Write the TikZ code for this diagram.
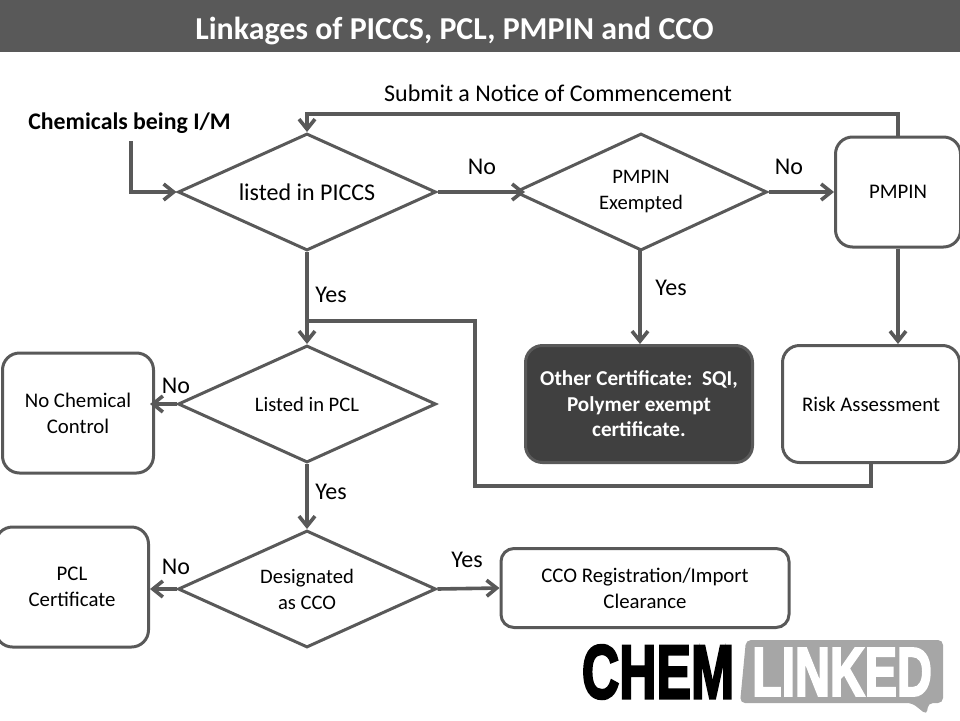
\documentclass[tikz,border=0pt]{standalone}
\usepackage{fontspec}
\setmainfont{Carlito}
\newfontfamily\logofont[FakeBold=3.5]{Liberation Sans Bold}
\usetikzlibrary{shapes.geometric,arrows.meta}
\definecolor{ln}{HTML}{595959}
\definecolor{bar}{HTML}{595959}
\definecolor{dk}{HTML}{404040}
\definecolor{lg}{HTML}{A6A6A6}
\tikzset{x=1pt,y=-1pt,
 dec/.style={draw=ln,line width=3pt,diamond,aspect=2.2,inner sep=0pt,align=center,font=\fontsize{20.6}{26}\selectfont},
 rb/.style={draw=ln,line width=3pt,rounded corners=17pt,align=center,font=\fontsize{20.8}{26}\selectfont,inner sep=0pt},
 con/.style={draw=ln,line width=3.6pt,-{Straight Barb[length=10pt,width=16pt,line width=3.6pt]}},
 pl/.style={draw=ln,line width=3.6pt},
 lab/.style={font=\fontsize{24}{26}\selectfont,text=black,inner sep=0pt}}
\begin{document}
\begin{tikzpicture}
\useasboundingbox (0,0) rectangle (960,720);
\fill[bar] (0,0) rectangle (960,52);
\node[font=\fontsize{31.9}{34}\selectfont\bfseries,text=white,inner sep=0] (title) at (454.5,31) {Linkages of PICCS, PCL, PMPIN and CCO};
\node[lab] (sub) at (558,93) {Submit a Notice of Commencement};
\node[lab,font=\fontsize{23.8}{26}\selectfont\bfseries] (chem) at (129.5,123) {Chemicals being I/M};
\coordinate (start) at (131,141);
\node[dec,minimum width=258pt,minimum height=117pt,font=\fontsize{24}{26}\selectfont] (d1) at (307,192) {listed in PICCS};
\node[dec,minimum width=252pt,minimum height=117pt] (d2) at (641,192) {PMPIN\\Exempted};
\node[dec,minimum width=258pt,minimum height=117pt] (d3) at (307,404) {Listed in PCL};
\node[dec,minimum width=258pt,minimum height=117pt] (d4) at (307,589) {Designated\\as CCO};
\node[rb,minimum width=125pt,minimum height=110pt] (pm) at (898,192) {PMPIN};
\node[rb,minimum width=177pt,minimum height=117pt] (ra) at (871,404) {Risk Assessment};
\node[rb,fill=dk,text=white,font=\fontsize{21.2}{25.5}\selectfont\bfseries,minimum width=227pt,minimum height=117pt] (oc) at (639,404) {Other Certificate:\ \ SQI,\\Polymer exempt\\certificate.};
\node[rb,minimum width=151pt,minimum height=120pt] (nc) at (78,413) {No Chemical\\Control};
\node[rb,minimum width=153pt,minimum height=120pt] (pc) at (72,587) {PCL\\Certificate};
\node[rb,rounded corners=13pt,minimum width=288pt,minimum height=79pt] (cco) at (645,588) {CCO Registration/Import\\Clearance};
\draw[con] (start) -- (131,192) -- (d1.west);
\draw[con] (d1.east) -- (525,192);
\draw[con] (d2.east) -- (pm.west);
\draw[con] (pm.north) -- (898,114) -- (307,114) -- (d1.north);
\draw[con] (d1.south) -- (d3.north);
\draw[con] (640,250) -- (oc.north-|640,0);
\draw[con] (pm.south) -- (pm.south|-ra.north);
\draw[pl] (871,462) -- (871,486) -- (475,486) -- (475,321) -- (307,321);
\draw[con] (d3.west) -- (150,404);
\draw[con] (d3.south) -- (d4.north);
\draw[con] (d4.west) -- (150,589);
\draw[con] (d4.east) -- (cco.west);
\node[lab] (n1) at (482,167) {No};
\node[lab] (n2) at (789,167) {No};
\node[lab] (y1) at (331,295) {Yes};
\node[lab] (y2) at (671,288) {Yes};
\node[lab] (n3) at (176,386) {No};
\node[lab] (y3) at (331,492) {Yes};
\node[lab] (n4) at (176,567) {No};
\node[lab] (y4) at (467,560) {Yes};
% logo
\node[font=\logofont\fontsize{76}{80}\selectfont,text=black,inner sep=0,xscale=.68,transform shape] (lc) at (658,672) {CHEM};
\draw[fill=lg,draw=none,rounded corners=5pt] (746,640) -- (943,640) -- (943,703) -- (928,703) -- (927,715) -- (912,703) -- (740,703) -- cycle;
\node[font=\logofont\fontsize{69}{72}\selectfont,text=white,inner sep=0,xscale=.7,transform shape] (ll) at (842,672) {LINKED};
\end{tikzpicture}
\end{document}
